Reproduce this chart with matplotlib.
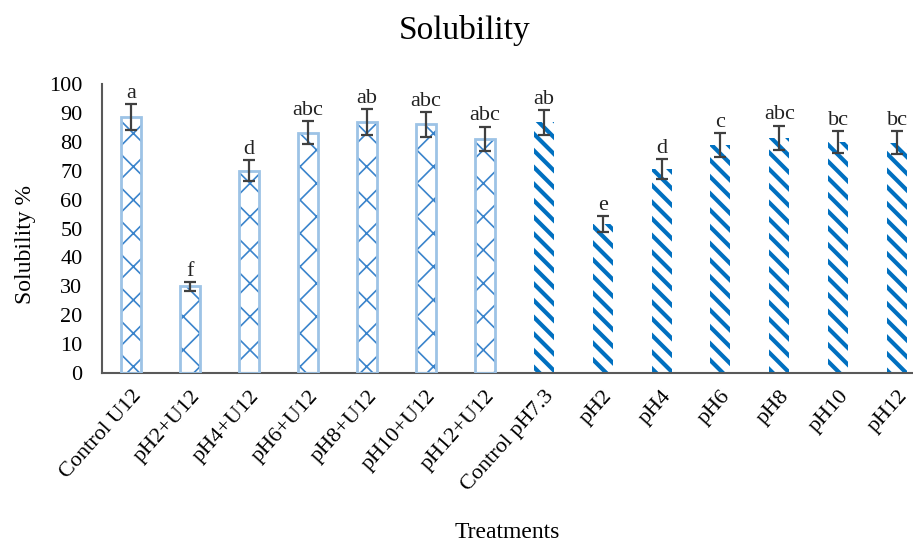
import matplotlib as mpl
mpl.use('Agg')
import matplotlib.pyplot as plt

categories = ['Control U12', 'pH2+U12', 'pH4+U12', 'pH6+U12', 'pH8+U12', 'pH10+U12', 'pH12+U12',
              'Control pH7.3', 'pH2', 'pH4', 'pH6', 'pH8', 'pH10', 'pH12']
solubility = [88.5, 30.0, 70.0, 83.2, 86.8, 86.0, 81.0,
              86.7, 51.6, 70.5, 78.9, 81.4, 79.9, 79.7]
errors = [4.5, 1.5, 3.7, 4.0, 4.4, 4.2, 4.2,
          4.3, 2.7, 3.5, 4.0, 4.2, 3.8, 4.0]
letters = ['a', 'f', 'd', 'abc', 'ab', 'abc', 'abc',
           'ab', 'e', 'd', 'c', 'abc', 'bc', 'bc']
n_u12 = 7  # first group: with U12

plt.rcParams['font.family'] = ['Liberation Serif', 'DejaVu Serif']

fig = plt.figure(figsize=(9.13, 5.47), dpi=100)
ax = fig.add_axes([102/913, 174/547, 1 - 102/913, (373 - 84)/547])

x = list(range(len(categories)))
bw = 0.34

# U12 bars: light outline, crossed hatch
with plt.rc_context({'hatch.linewidth': 1.2}):
    ax.bar(x[:n_u12], solubility[:n_u12], bw, color='white', edgecolor='#3a84cc',
           linewidth=0, hatch='x', zorder=2)
ax.bar(x[:n_u12], solubility[:n_u12], bw, color='none', edgecolor='#9dc3e6',
       linewidth=2, zorder=3)

# pH bars: thick diagonal stripes, no outline
with plt.rc_context({'hatch.linewidth': 3.0}):
    ax.bar(x[n_u12:], solubility[n_u12:], bw, color='white', edgecolor='#0070c0',
           linewidth=0, hatch='\\\\', zorder=2)

ax.errorbar(x, solubility, yerr=errors, fmt='none', ecolor='#404040',
            elinewidth=1.6, capsize=4, capthick=1.6, zorder=4)

for xi, v, e, t in zip(x, solubility, errors, letters):
    ax.annotate(t, (xi, v + e), xytext=(0, 1), textcoords='offset points',
                ha='center', va='bottom', fontsize=16, color='#222222')

ax.set_xlim(-0.5, 13.27)
ax.set_ylim(0, 100)
ax.set_yticks(range(0, 101, 10))
ax.set_xticks(x)
ax.set_xticklabels(categories, rotation=48, ha='right', rotation_mode='anchor')
ax.tick_params(axis='both', length=0, labelsize=16, colors='black')
ax.tick_params(axis='x', pad=10)
ax.tick_params(axis='y', pad=14)

for s in ['top', 'right']:
    ax.spines[s].set_visible(False)
for s in ['left', 'bottom']:
    ax.spines[s].set_color('#595959')
    ax.spines[s].set_linewidth(1.5)

fig.text(465/913, 1 - 30/547, 'Solubility', ha='center', va='center', fontsize=24)
fig.text(507/913, 1 - 533/547, 'Treatments', ha='center', va='center', fontsize=17)
fig.text(26/913, 1 - 245/547, 'Solubility %', ha='center', va='center',
         rotation=90, fontsize=17)

fig.savefig('out.png', dpi=100)
